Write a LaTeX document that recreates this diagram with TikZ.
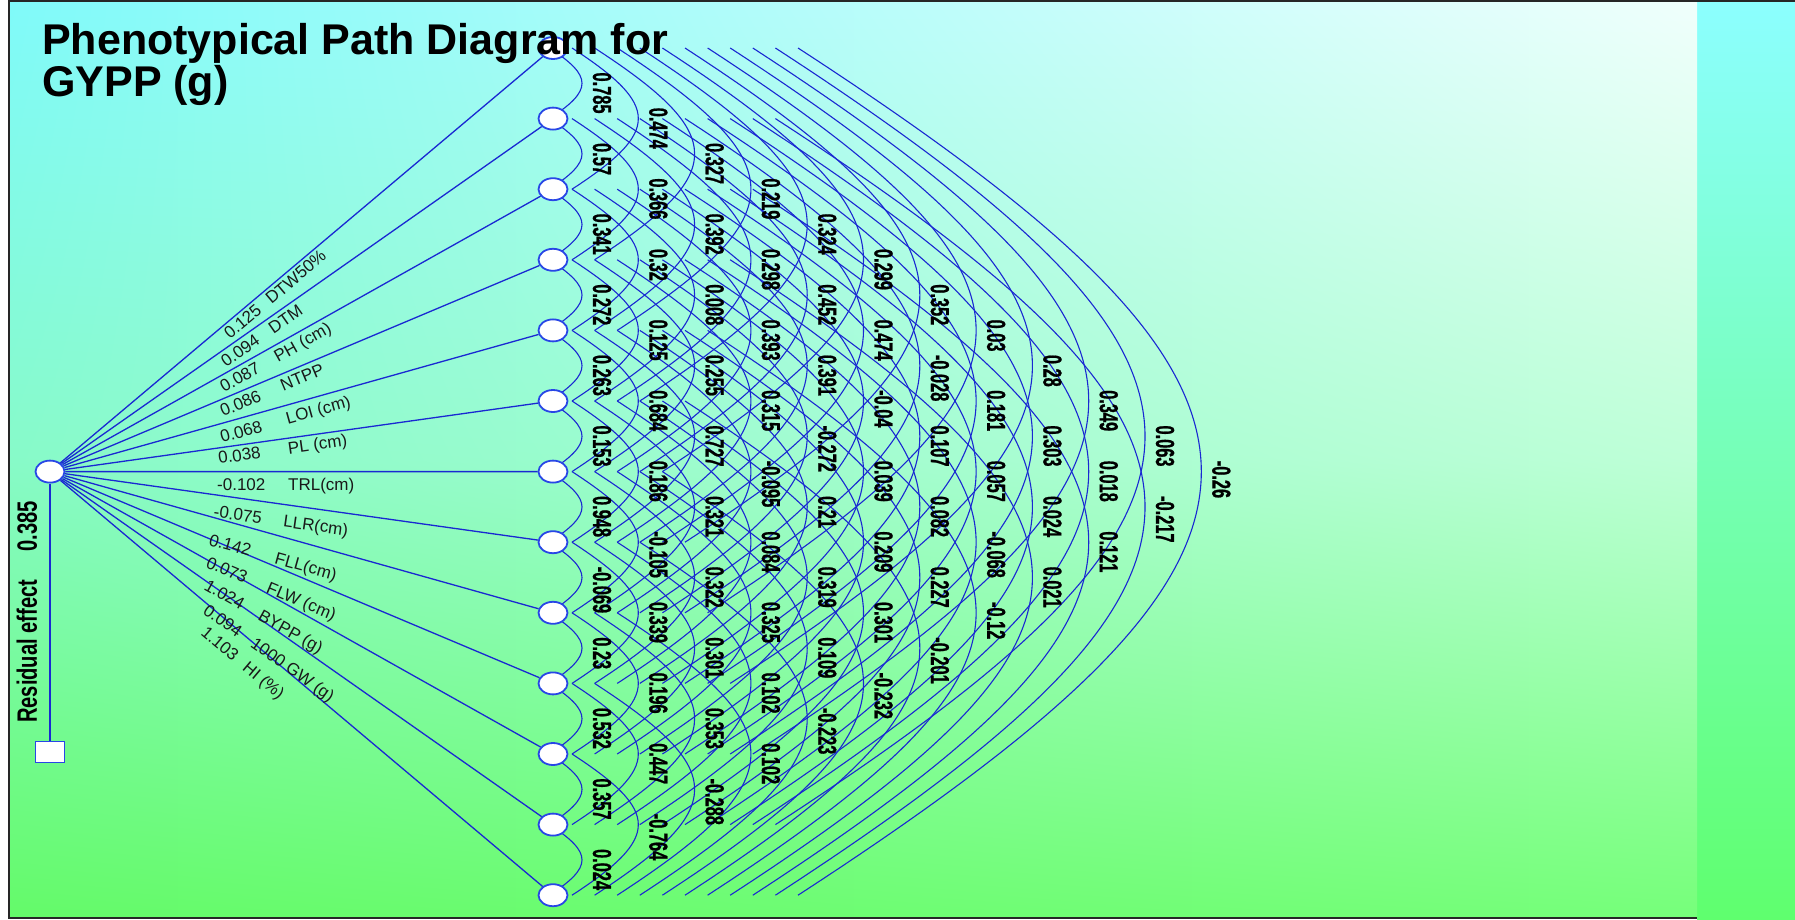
\documentclass[tikz,border=0pt]{standalone}
\usepackage{fontspec}
\setmainfont{Liberation Sans}
\newfontfamily\condfont[FakeStretch=0.63,FakeBold=0.8]{Liberation Sans}
\newfontfamily\resfont[FakeStretch=0.72]{Liberation Sans}
\usetikzlibrary{shapes.geometric,calc,shadings}
\pgfdeclarelayer{bg}
\pgfdeclarelayer{wires}
\pgfsetlayers{bg,wires,main}
\definecolor{wire}{RGB}{25,40,210}
\definecolor{edgeblue}{RGB}{40,70,230}
\definecolor{stripTop}{RGB}{140,255,255}
\definecolor{stripMid}{RGB}{115,255,210}
\definecolor{stripBot}{RGB}{95,255,110}
\definecolor{pUL}{RGB}{128,250,250}
\definecolor{pUR}{RGB}{240,255,252}
\definecolor{pML}{RGB}{135,250,200}
\definecolor{pMR}{RGB}{190,255,215}
\definecolor{pLL}{RGB}{100,250,105}
\definecolor{pLR}{RGB}{118,255,122}
\definecolor{labtext}{RGB}{25,25,25}
\begin{document}
\begin{tikzpicture}[x=1pt,y=-1pt,
  var/.style={ellipse, draw=edgeblue, line width=1.8pt, fill=white, minimum width=29pt, minimum height=22pt, inner sep=0pt},
  resbox/.style={rectangle, draw=edgeblue, line width=1.8pt, fill=white, minimum width=29pt, minimum height=21pt, inner sep=0pt},
  wireline/.style={draw=wire, line width=1.3pt},
  arcline/.style={draw=wire, line width=1.1pt},
  coef/.style={font=\condfont\bfseries\fontsize{26}{30}\selectfont, text=black, inner sep=0pt, rotate=-90, anchor=west},
  pathlabel/.style={font=\fontsize{17}{20}\selectfont, text=labtext, inner sep=0pt, anchor=base west},
  titletext/.style={font=\bfseries\fontsize{43}{47}\selectfont, text=black, inner sep=0pt, anchor=base west}
]
\useasboundingbox (0,0) rectangle (1795,920);
\begin{pgfonlayer}{bg}
  \fill[white] (0,0) rectangle (1795,920);
  \shade[top color=stripTop, middle color=stripMid, bottom color=stripBot] (1697,0) rectangle (1795,920);
  \shade[upper left=pUL, upper right=pUR, lower left=pML, lower right=pMR] (9,2) rectangle (1697,461);
  \shade[upper left=pML, upper right=pMR, lower left=pLL, lower right=pLR] (9,460) rectangle (1697,918);
  \draw[black!85, line width=2pt] (1697,918) -- (9,918) -- (9,1.5) -- (1795,1.5);
\end{pgfonlayer}

% variable nodes
\foreach \i in {0,...,12} {
  \node[var] (n\i) at (553,{48+70.6*\i}) {};
}
\node[var] (L) at (50,471.6) {};
\node[resbox] (R) at (50,752) {};

% residual
\draw[wireline] (L) -- (R);
\node[rotate=90, font=\resfont\bfseries\fontsize{28}{32}\selectfont, inner sep=0pt] (res) at (27,612) {Residual effect\hspace{1em}0.385};

% direct paths
\foreach \i in {0,...,12} {
  \draw[wireline] (L) -- (n\i);
}
\foreach \i/\bx/\by/\num/\nm in {
  0/230/340/0.125/DTW50\%,
  1/226/368/0.094/DTM,
  2/224/393/0.087/{PH (cm)},
  3/223/417/0.086/NTPP,
  4/222/443/0.068/{LOI (cm)},
  5/219/464/0.038/{PL (cm)},
  6/217/490/-0.102/TRL(cm),
  7/213/517/-0.075/LLR(cm),
  8/208/545/0.142/FLL(cm),
  9/205/567/0.073/{FLW (cm)},
  10/203/589/1.024/{BYPP (g)},
  11/202/613/0.094/{1000 GW (g)},
  12/200/634/1.103/{HI (\%)}} {
  \pgfmathsetmacro\ang{atan((471.6-(48+70.6*\i))/503)}
  \pgfmathsetmacro\w{71*cos(\ang)}
  \node[pathlabel, rotate=\ang] (lab\i) at (\bx,\by) {\makebox[\w pt][l]{\num}\nm};
}

% correlation arcs
\begin{pgfonlayer}{wires}
\foreach \i in {0,...,11} {
  \pgfmathtruncatemacro\kmax{12-\i}
  \foreach \k in {1,...,\kmax} {
    \pgfmathtruncatemacro\j{\i+\k}
    \pgfmathsetmacro\xs{-3.6+22.6*(\k-1)}
    \pgfmathsetmacro\D{(32.6+33.7*(\k-1))/0.75}
    \pgfmathsetmacro\E{0.65*\D}
    \draw[arcline] ($(n\i)+(\xs,0)$) .. controls +(\D,\E) and +(\D,-\E) .. ($(n\j)+(\xs,0)$);
  }
}
\end{pgfonlayer}

% correlation labels
\foreach \k/\vals in {
  1/{0.785,0.57,0.341,0.272,0.263,0.153,0.948,-0.069,0.23,0.532,0.357,0.024},
  2/{0.474,0.366,0.32,0.125,0.684,0.186,-0.105,0.339,0.196,0.447,-0.764},
  3/{0.327,0.392,0.008,0.255,0.727,0.321,0.322,0.301,0.353,-0.288},
  4/{0.219,0.298,0.393,0.315,-0.095,0.084,0.325,0.102,0.102},
  5/{0.324,0.452,0.391,-0.272,0.21,0.319,0.109,-0.223},
  6/{0.299,0.474,-0.04,0.039,0.209,0.301,-0.232},
  7/{0.352,-0.028,0.107,0.082,0.227,-0.201},
  8/{0.03,0.181,0.057,-0.068,-0.12},
  9/{0.28,0.303,0.024,0.021},
  10/{0.349,0.018,0.121},
  11/{0.063,-0.217},
  12/{-0.26}} {
  \foreach \v [count=\c from 0] in \vals {
    \pgfmathtruncatemacro\j{\c+\k}
    \node[coef] (c\c-\j) at ($(n\c)!0.5!(n\j)+({49+56.3*(\k-1)},-11)$) {\v};
  }
}

% title
\node[titletext] (t1) at (42,55) {Phenotypical Path Diagram for};
\node[titletext] (t2) at (42,97) {GYPP (g)};
\end{tikzpicture}
\end{document}
